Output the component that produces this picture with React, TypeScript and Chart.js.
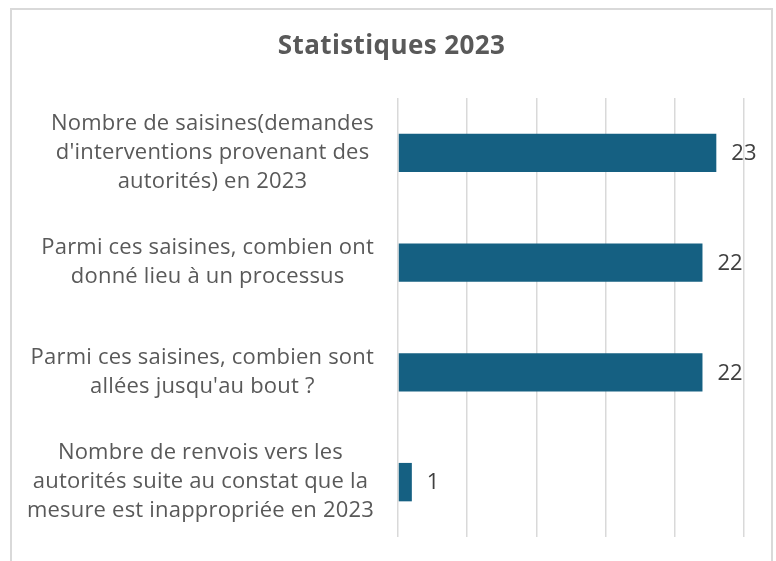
import React, { useEffect, useRef } from "react";
import { Chart, registerables } from "chart.js";

Chart.register(...registerables);

const title = "Statistiques 2023";
const categoryLines: string[][] = [
  ["Nombre de saisines(demandes", "d'interventions provenant des", "autorités) en 2023"],
  ["Parmi ces saisines, combien ont", "donné lieu à un processus"],
  ["Parmi ces saisines, combien sont", "allées jusqu'au bout ?"],
  ["Nombre de renvois vers les", "autorités suite au constat que la", "mesure est inappropriée en 2023"],
];
const values: number[] = [23, 22, 22, 1];
const xMin = 0;
const xMax = 25;
const xStep = 5;

const FONT = "'Open Sans', sans-serif";
const LABEL_SIZE = 22;
const TITLE_SIZE = 26;
const LINE_H = 29;
const TEXT_COLOR = "#595959";
const BAR_COLOR = "#156082";
const GRID_COLOR = "#d9d9d9";

const framePlugin = {
  id: "frame",
  beforeDraw(chart: any) {
    const ctx = chart.ctx;
    ctx.save();
    ctx.fillStyle = "#ffffff";
    ctx.fillRect(0, 0, chart.width, chart.height);
    ctx.strokeStyle = GRID_COLOR;
    ctx.lineWidth = 2;
    ctx.strokeRect(11, 9, 761, 600);
    ctx.font = `bold ${TITLE_SIZE}px ${FONT}`;
    (ctx as any).letterSpacing = "0.4px";
    ctx.fillStyle = TEXT_COLOR;
    ctx.textAlign = "center";
    ctx.textBaseline = "middle";
    ctx.fillText(title, 391.5, 47);
    ctx.restore();
  },
};

const categoryLabelPlugin = {
  id: "catLabels",
  afterDraw(chart: any) {
    const ctx = chart.ctx;
    const yScale = chart.scales.y;
    const rightEdge = chart.chartArea.left - 24;
    ctx.save();
    ctx.font = `${LABEL_SIZE}px ${FONT}`;
    (ctx as any).letterSpacing = "0.2px";
    ctx.fillStyle = TEXT_COLOR;
    ctx.textAlign = "center";
    ctx.textBaseline = "middle";
    categoryLines.forEach((lines, i) => {
      const cy = yScale.getPixelForValue(i);
      const maxW = Math.max(...lines.map((l) => ctx.measureText(l).width));
      const cx = rightEdge - maxW / 2;
      const startY = cy - ((lines.length - 1) * LINE_H) / 2;
      lines.forEach((l, j) => ctx.fillText(l, cx, startY + j * LINE_H));
    });
    ctx.restore();
  },
};

const valueLabelPlugin = {
  id: "valueLabels",
  afterDatasetsDraw(chart: any) {
    const ctx = chart.ctx;
    const meta = chart.getDatasetMeta(0);
    ctx.save();
    ctx.font = `${LABEL_SIZE}px ${FONT}`;
    ctx.fillStyle = "#404040";
    ctx.textAlign = "left";
    ctx.textBaseline = "middle";
    meta.data.forEach((bar: any, i: number) => {
      ctx.fillText(String(values[i]), bar.x + 15, bar.y + 1);
    });
    ctx.restore();
  },
};

export default function App() {
  const ref = useRef<HTMLCanvasElement | null>(null);
  useEffect(() => {
    if (!ref.current) return;
    const chart = new Chart(ref.current, {
      type: "bar",
      data: {
        labels: categoryLines.map((l) => l.join(" ")),
        datasets: [
          {
            data: values,
            backgroundColor: BAR_COLOR,
            borderWidth: 0,
            barPercentage: 0.35,
            categoryPercentage: 1,
          },
        ],
      },
      options: {
        indexAxis: "y",
        responsive: false,
        animation: false,
        layout: { padding: { left: 398, right: 32, top: 98, bottom: 24 } },
        plugins: {
          legend: { display: false },
          tooltip: { enabled: false },
          title: { display: false },
        },
        scales: {
          x: {
            min: xMin,
            max: xMax,
            ticks: { stepSize: xStep, display: false },
            grid: { color: GRID_COLOR, lineWidth: 1.5, drawTicks: false },
            border: { display: false },
            afterFit: (s: any) => {
              s.height = 0;
            },
          },
          y: {
            display: false,
          },
        },
      },
      plugins: [framePlugin, categoryLabelPlugin, valueLabelPlugin],
    } as any);
    return () => chart.destroy();
  }, []);
  return (
    <div style={{ position: "absolute", left: 0, top: 0, width: 776, height: 561 }}>
      <canvas ref={ref} width={776} height={561} style={{ display: "block" }} />
    </div>
  );
}
